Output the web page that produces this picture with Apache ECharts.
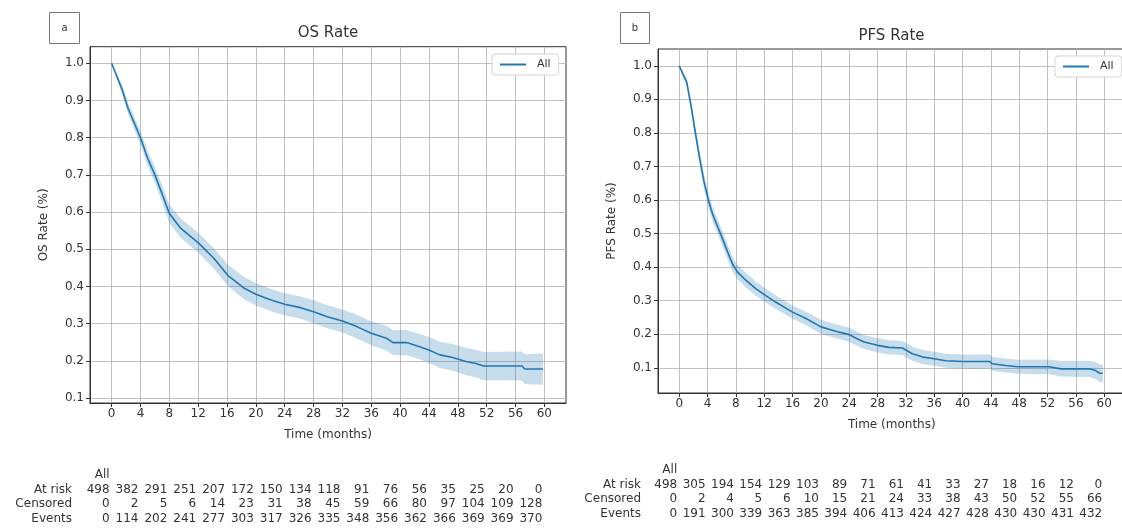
<!DOCTYPE html>
<html><head><meta charset="utf-8">
<script src="https://cdn.jsdelivr.net/npm/echarts@6/dist/echarts.min.js"></script>
<style>html,body{margin:0;padding:0;background:#fff}#c{width:1122px;height:529px}</style>
</head><body><div id="c"></div>
<script>
// ---- tick labels ----
const xTicks = [0,4,8,12,16,20,24,28,32,36,40,44,48,52,56,60];
const yTicks = [0.1,0.2,0.3,0.4,0.5,0.6,0.7,0.8,0.9,1.0];

// ---- OS curve (panel a) ----
const osTime  = [0,1.4,2.3,4.0,5.0,6.0,6.9,8.0,9.6,12.1,14.2,16.1,18.4,20.0,22.0,24.0,26.2,28.0,29.8,32.0,34.0,36.0,38.1,39.0,40.9,42.7,44.0,45.5,47.3,49.1,50.5,51.6,56.9,57.3,59.8];
const osSurv  = [1.0,0.932,0.878,0.800,0.744,0.700,0.654,0.596,0.556,0.516,0.475,0.430,0.395,0.379,0.364,0.352,0.343,0.332,0.319,0.307,0.292,0.274,0.261,0.249,0.249,0.238,0.229,0.216,0.209,0.198,0.193,0.186,0.186,0.178,0.178];
const osUpper = [1.0,0.944,0.893,0.818,0.764,0.722,0.677,0.621,0.582,0.543,0.503,0.459,0.425,0.409,0.394,0.382,0.373,0.363,0.350,0.338,0.324,0.306,0.294,0.282,0.283,0.272,0.264,0.251,0.245,0.235,0.230,0.224,0.225,0.218,0.220];
const osLower = [1.0,0.920,0.863,0.782,0.724,0.678,0.631,0.571,0.530,0.489,0.447,0.401,0.365,0.349,0.334,0.322,0.313,0.301,0.288,0.276,0.260,0.242,0.228,0.216,0.215,0.204,0.194,0.181,0.173,0.161,0.156,0.148,0.147,0.138,0.136];

// ---- PFS curve (panel b) ----
const pfsTime  = [0,0.47,1.04,1.65,2.1,2.8,3.5,4.1,4.7,5.4,6.1,6.8,7.5,8.2,9.4,10.8,12.0,13.6,16.0,17.9,20.0,22.1,24.0,24.9,26.1,28.0,29.6,31.5,32.9,34.4,36.0,37.6,40.0,43.8,44.2,46.1,47.8,52.2,53.9,57.9,58.8,59.3,59.8];
const pfsSurv  = [1.0,0.977,0.952,0.883,0.823,0.734,0.654,0.601,0.558,0.522,0.485,0.447,0.410,0.386,0.361,0.336,0.318,0.296,0.266,0.247,0.222,0.209,0.199,0.189,0.177,0.167,0.161,0.159,0.142,0.132,0.127,0.121,0.119,0.119,0.112,0.107,0.103,0.103,0.097,0.097,0.092,0.084,0.084];
const pfsUpper = [1.0,0.985,0.964,0.899,0.841,0.754,0.675,0.623,0.580,0.544,0.507,0.469,0.432,0.408,0.383,0.357,0.339,0.316,0.286,0.267,0.243,0.230,0.220,0.210,0.198,0.188,0.182,0.180,0.163,0.153,0.148,0.142,0.140,0.140,0.133,0.128,0.124,0.125,0.120,0.121,0.117,0.110,0.110];
const pfsLower = [1.0,0.969,0.940,0.867,0.805,0.714,0.633,0.579,0.536,0.500,0.463,0.425,0.388,0.364,0.339,0.315,0.297,0.276,0.246,0.227,0.201,0.188,0.178,0.168,0.156,0.146,0.140,0.138,0.121,0.111,0.106,0.100,0.098,0.098,0.091,0.086,0.082,0.081,0.074,0.073,0.067,0.058,0.056];

// ---- at-risk tables ----
const tableRows   = ['At risk','Censored','Events'];
const tableHeader = 'All';
const osAtRisk    = [498,382,291,251,207,172,150,134,118,91,76,56,35,25,20,0];
const osCensored  = [0,2,5,6,14,23,31,38,45,59,66,80,97,104,109,128];
const osEvents    = [0,114,202,241,277,303,317,326,335,348,356,362,366,369,369,370];
const pfsAtRisk   = [498,305,194,154,129,103,89,71,61,41,33,27,18,16,12,0];
const pfsCensored = [0,2,4,5,6,10,15,21,24,33,38,43,50,52,55,66];
const pfsEvents   = [0,191,300,339,363,385,394,406,413,424,427,428,430,430,431,432];

// ---- texts ----
const titles = ['OS Rate','PFS Rate'];
const yNames = ['OS Rate (%)','PFS Rate (%)'];
const xName = 'Time (months)';
const panelTags = ['a','b'];
const seriesName = 'All';

const FONT = 'DejaVu Sans';
const TXT = '#333';
const BLUE = '#1f77b4';
const BAND = 'rgba(31,119,180,0.25)';

const chart = echarts.init(document.getElementById('c'), null, {renderer:'canvas'});

function pairs(t, v){ return t.map((x,i)=>[x, v[i]]); }

function bandSeries(idx, t, up, lo){
  return {
    type:'custom', xAxisIndex: idx, yAxisIndex: idx, silent:true, z:1,
    data:[[t[0], up[0]]],
    renderItem: function(params, api){
      const pts = [];
      for (let i=0;i<t.length;i++) pts.push(api.coord([t[i], up[i]]));
      for (let i=t.length-1;i>=0;i--) pts.push(api.coord([t[i], lo[i]]));
      return {type:'polygon', shape:{points:pts}, style:{fill:BAND, stroke:null}};
    }
  };
}

function mainX(idx){
  return {
    type:'value', gridIndex: idx, min:-3, max:63, position:'bottom',
    axisLine:{show:true, onZero:false, lineStyle:{color:'#333', width:1}},
    axisTick:{show:true, customValues:xTicks, length:4, lineStyle:{color:'#333'}},
    axisLabel:{customValues:xTicks, fontFamily:FONT, fontSize:12, color:TXT, margin:5},
    splitLine:{show:true, lineStyle:{color:'#b0b0b0', width:0.8}},
    name:xName, nameLocation:'middle', nameGap:26,
    nameTextStyle:{fontFamily:FONT, fontSize:12, color:TXT}
  };
}
function tableX(idx, atRisk, cens, ev, margin){
  return {
    type:'value', gridIndex: idx, min:-3, max:63, position:'bottom',
    axisLine:{show:false}, axisTick:{show:false}, splitLine:{show:false},
    axisLabel:{
      customValues:xTicks, fontFamily:FONT, fontSize:12, color:TXT, margin:margin,
      align:'right', lineHeight:14.5, padding:[0,2,0,0],
      formatter:function(v){
        const i = xTicks.indexOf(v);
        return (i===0 ? tableHeader : ' ') + '\n' + atRisk[i] + '\n' + cens[i] + '\n' + ev[i];
      }
    }
  };
}
function mainY(idx, min, max){
  return {
    type:'value', gridIndex: idx, min:min, max:max,
    axisLine:{show:true, onZero:false, lineStyle:{color:'#333', width:1}},
    axisTick:{show:true, customValues:yTicks, length:4, lineStyle:{color:'#333'}},
    axisLabel:{customValues:yTicks, fontFamily:FONT, fontSize:12, color:TXT, margin:6,
      formatter:function(v){ return v.toFixed(1); }},
    splitLine:{show:true, lineStyle:{color:'#b0b0b0', width:0.8}},
    name:yNames[idx], nameLocation:'middle', nameGap:40,
    nameTextStyle:{fontFamily:FONT, fontSize:12, color:TXT}
  };
}
function legendAt(left, top){
  return {data:[seriesName], left:left, top:top, icon:'rect', itemWidth:26, itemHeight:2, itemGap:5,
    padding:[5,8,5,8], borderColor:'#d5d5d5', borderWidth:1, borderRadius:3, backgroundColor:'#fff',
    textStyle:{fontFamily:FONT, fontSize:11, color:TXT, padding:[0,0,0,6]}, selectedMode:false};
}

const option = {
  backgroundColor:'#fff',
  animation:false,
  grid:[
    {left:90, top:46.7, width:476, height:356.3, show:true, borderColor:'#333', borderWidth:1, backgroundColor:'transparent', outerBoundsMode:'none', containLabel:false},
    {left:658, top:49, width:467.5, height:344, show:true, borderColor:'#333', borderWidth:1, backgroundColor:'transparent', outerBoundsMode:'none', containLabel:false}
  ],
  xAxis:[
    mainX(0), mainX(1),
    tableX(0, osAtRisk, osCensored, osEvents, 65),
    tableX(1, pfsAtRisk, pfsCensored, pfsEvents, 70)
  ],
  yAxis:[ mainY(0, 0.0866, 1.0447), mainY(1, 0.025, 1.05) ],
  legend:[ legendAt(492, 54), legendAt(1055, 56) ],
  series:[
    bandSeries(0, osTime, osUpper, osLower),
    {type:'line', name:seriesName, xAxisIndex:0, yAxisIndex:0, data:pairs(osTime, osSurv),
     showSymbol:false, symbol:'none', z:3, lineStyle:{color:BLUE, width:1.6}, itemStyle:{color:BLUE}},
    bandSeries(1, pfsTime, pfsUpper, pfsLower),
    {type:'line', name:seriesName, xAxisIndex:1, yAxisIndex:1, data:pairs(pfsTime, pfsSurv),
     showSymbol:false, symbol:'none', z:3, lineStyle:{color:BLUE, width:1.6}, itemStyle:{color:BLUE}}
  ],
  graphic:[
    {type:'text', x:328, y:33, style:{text:titles[0], align:'center', verticalAlign:'middle', font:'15px '+FONT, fill:TXT}},
    {type:'text', x:891.5, y:36, style:{text:titles[1], align:'center', verticalAlign:'middle', font:'15px '+FONT, fill:TXT}},
    {type:'rect', shape:{x:49.5, y:12.5, width:30, height:31}, style:{fill:'#fff', stroke:'#777', lineWidth:1}},
    {type:'text', x:64.5, y:28, style:{text:panelTags[0], align:'center', verticalAlign:'middle', font:'10px '+FONT, fill:TXT}},
    {type:'rect', shape:{x:620.5, y:12.5, width:29, height:31}, style:{fill:'#fff', stroke:'#777', lineWidth:1}},
    {type:'text', x:635, y:28, style:{text:panelTags[1], align:'center', verticalAlign:'middle', font:'10px '+FONT, fill:TXT}},
    {type:'text', x:72, y:489.5, style:{text:tableRows[0], align:'right', verticalAlign:'middle', font:'12px '+FONT, fill:TXT}},
    {type:'text', x:72, y:504, style:{text:tableRows[1], align:'right', verticalAlign:'middle', font:'12px '+FONT, fill:TXT}},
    {type:'text', x:72, y:518.5, style:{text:tableRows[2], align:'right', verticalAlign:'middle', font:'12px '+FONT, fill:TXT}},
    {type:'text', x:641, y:484.5, style:{text:tableRows[0], align:'right', verticalAlign:'middle', font:'12px '+FONT, fill:TXT}},
    {type:'text', x:641, y:499, style:{text:tableRows[1], align:'right', verticalAlign:'middle', font:'12px '+FONT, fill:TXT}},
    {type:'text', x:641, y:513.5, style:{text:tableRows[2], align:'right', verticalAlign:'middle', font:'12px '+FONT, fill:TXT}}
  ]
};
chart.setOption(option);
</script>
</body></html>
